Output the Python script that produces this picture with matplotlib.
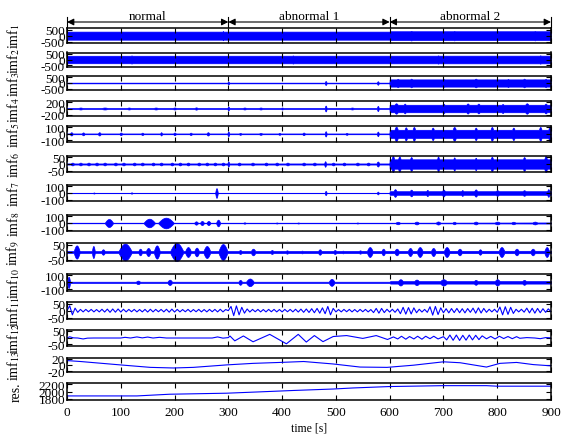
import numpy as np
import matplotlib
matplotlib.use('Agg')
import matplotlib.pyplot as plt
from matplotlib.transforms import blended_transform_factory

plt.rcParams['font.family'] = ['Liberation Serif', 'DejaVu Serif']
plt.rcParams['mathtext.fontset'] = 'stix'
plt.rcParams['axes.unicode_minus'] = False

# ---------------- data ----------------
segment_names = ['normal', 'abnormal 1', 'abnormal 2']
segment_bounds = [0, 300, 600, 900]
x_ticks = [0, 100, 200, 300, 400, 500, 600, 700, 800, 900]
x_label = 'time [s]'
row_labels = ['imf$_{1}$', 'imf$_{2}$', 'imf$_{3}$', 'imf$_{4}$', 'imf$_{5}$',
              'imf$_{6}$', 'imf$_{7}$', 'imf$_{8}$', 'imf$_{9}$', 'imf$_{10}$',
              'imf$_{11}$', 'imf$_{12}$', 'imf$_{13}$', 'res.']
row_tick = [500, 500, 500, 200, 100, 50, 100, 100, 50, 100, 50, 50, 20, 200]
res_center = 2000

# dense IMFs: envelope baseline knots + bursts (centre, half-width, amplitude)
imf1_base_t = [0, 300, 600, 601, 900]
imf1_base_a = [330, 330, 330, 360, 360]
imf1_bursts = [(290, 2, 380), (640, 6, 390), (720, 5, 385), (800, 6, 390), (870, 5, 385)]

imf2_base_t = [0, 900]
imf2_base_a = [320, 330]
imf2_bursts = [(120, 4, 350), (420, 4, 350), (690, 4, 355), (880, 4, 360)]

imf3_base_t = [0, 599.5, 600, 900]
imf3_base_a = [30, 30, 310, 310]
imf3_bursts = [(300, 2, 120), (481, 2, 170), (578, 2, 150),
               (615, 5, 360), (640, 5, 370), (700, 4, 350), (760, 6, 370),
               (820, 4, 350), (850, 5, 370), (890, 4, 360)]

imf4_base_t = [0, 599.5, 600, 900]
imf4_base_a = [15, 15, 115, 115]
imf4_bursts = [(25, 6, 30), (70, 8, 30), (115, 5, 30), (165, 6, 30), (200, 5, 30),
               (240, 4, 35), (300, 2, 60), (330, 5, 30), (360, 5, 30), (400, 3, 30),
               (481, 2, 90), (530, 5, 30), (578, 2, 80),
               (612, 6, 160), (628, 4, 150), (700, 5, 145), (745, 5, 155), (765, 5, 150),
               (810, 4, 140), (855, 6, 160), (890, 5, 150)]

imf5_base_t = [0, 599.5, 600, 900]
imf5_base_a = [6, 6, 62, 62]
imf5_bursts = [(8, 3, 25), (30, 3, 22), (60, 3, 25), (100, 3, 20), (140, 3, 18),
               (175, 2, 25), (200, 3, 20), (230, 3, 18), (262, 3, 25), (300, 2, 35),
               (322, 3, 15), (360, 4, 15), (395, 3, 15), (440, 3, 20), (481, 2, 40),
               (520, 3, 15), (578, 2, 35),
               (612, 5, 110), (630, 4, 100), (645, 4, 105), (680, 4, 95), (720, 5, 105),
               (760, 4, 95), (790, 4, 105), (830, 4, 95), (880, 4, 105), (897, 3, 110)]

imf6_base_t = [0, 599.5, 600, 900]
imf6_base_a = [4, 4, 34, 34]
imf6_bursts = [(10, 4, 10), (25, 4, 10), (40, 4, 10), (55, 4, 10), (70, 4, 10),
               (90, 4, 10), (105, 4, 10), (125, 4, 10), (140, 4, 10), (160, 4, 10),
               (175, 4, 10), (195, 4, 10), (210, 4, 10), (225, 4, 10), (245, 4, 10),
               (260, 4, 10), (275, 4, 10), (290, 4, 10), (300, 2, 18),
               (320, 4, 10), (345, 4, 10), (370, 4, 10), (390, 4, 10), (410, 4, 10),
               (440, 4, 10), (460, 4, 10), (480, 2, 20), (495, 4, 10), (515, 4, 10),
               (540, 4, 10), (560, 4, 10), (578, 3, 18),
               (606, 4, 58), (618, 4, 55), (640, 4, 50), (690, 3, 55), (720, 3, 48),
               (760, 3, 45), (790, 4, 52), (850, 4, 50), (890, 4, 58)]

imf7_base_t = [0, 599.5, 600, 900]
imf7_base_a = [3, 3, 26, 26]
imf7_bursts = [(50, 2, 8), (120, 2, 10), (278, 2.5, 70), (481, 2, 30), (578, 2, 20),
               (610, 4, 55), (640, 4, 48), (670, 3, 45), (700, 4, 50), (735, 3, 42),
               (760, 4, 52), (800, 5, 40), (850, 5, 40), (895, 3, 55)]

imf8_base_t = [0, 600, 900]
imf8_base_a = [4, 4, 8]
imf8_bursts = [(78, 8, 58), (153, 11, 62), (184, 15, 77), (240, 4, 24), (251, 4, 30),
               (263, 4, 30), (281, 4, 48), (330, 3, 10), (390, 3, 8), (430, 3, 8),
               (540, 3, 8), (615, 5, 18), (650, 5, 20), (690, 5, 22), (720, 4, 18),
               (760, 5, 20), (800, 6, 20), (830, 5, 18), (870, 6, 20)]

imf9_base_t = [0, 900]
imf9_base_a = [6, 8]
imf9_bursts = [(18, 6, 44), (49, 3, 40), (67, 4, 18), (108, 13, 56), (136, 4, 22),
               (151, 5, 27), (167, 6, 44), (204, 13, 60), (225, 6, 33), (241, 5, 29),
               (260, 7, 40), (290, 9, 53), (322, 4, 13), (346, 5, 22), (381, 4, 13),
               (409, 4, 11), (437, 4, 9), (470, 4, 18), (498, 4, 13), (513, 3, 9),
               (545, 4, 11), (563, 6, 33), (588, 4, 22), (613, 5, 22), (638, 5, 27),
               (656, 6, 33), (681, 5, 27), (706, 6, 33), (730, 5, 22), (768, 4, 18),
               (808, 6, 33), (836, 5, 22), (866, 5, 22), (892, 5, 33)]

imf10_base_t = [0, 600, 601, 900]
imf10_base_a = [9, 9, 18, 18]
imf10_bursts = [(3, 3, 80), (132, 5, 25), (191, 5, 38), (322, 4, 35), (340, 8, 55),
                (492, 6, 50), (620, 6, 45), (650, 6, 40), (700, 8, 45), (760, 5, 35),
                (800, 6, 45), (850, 5, 35)]

# line-type IMFs
imf11_t = list(range(0, 901, 5))
imf11_v = [0, 35, -30, 18, -12, 9,
           -9, 9, -8, 9, -9, 8, -9, 10, -10, 11,
           -12, 12, -11, 12, -10, 10,
           -9, 9, -8, 9,
           -9, 8, -9, 9, -10, 10,
           -9, 9, -8, 9,
           -9, 10, -11, 11, -10, 9,
           -9, 8, -8, 9,
           -9, 8, -8, 9, -9, 8,
           -9, 9, -8, 9,
           -9, 10, -9, 8,
           0, 30, -36, 34, -30, 24, -18, 12, -10,
           9, -8, 9, -9, 8, -9, 9, -8, 9, -9, 8, -9, 9, -8, 9, -9, 10, -10,
           11, -12, 12, -13, 14, -15, 16, -18, 20, -22,
           30, -30, 16,
           -9, 8, -9, 9, -8, 9, -9, 8, -9, 9, -8, 9, -9, 8,
           -14, 16, -18, 16, -14, 10,
           -10, 10, -12, 12,
           -22, 24, -25, 22, -24, 20, -15,
           10, -10, 9, -12,
           28, -32, 30, -28, 20,
           -15, 14, -16, 15, -14, 16, -15, 14, -16, 15, -12,
           18, -18, 20, -17, 16, -12,
           10, -9, 10, -12,
           26, -30, 28, -27, 24, -20,
           10, -9, 10, -11,
           18, -16, 17, -18, 16, -15, 14,
           -12, 13, -8]

imf12_t = [0, 5, 12, 20, 30, 38, 50, 100, 108, 118, 130, 140, 150, 160, 172, 185, 200,
           270, 280, 290, 300, 303, 312, 328, 346, 377, 408, 430, 445, 460, 476, 495,
           520, 550, 575, 596, 607, 615, 622, 630, 637, 645, 652, 660, 667, 675, 682,
           690, 700, 706, 712, 718, 724, 730, 736, 742, 748, 754, 760, 766, 772, 780,
           788, 796, 804, 812, 820, 828, 836, 842, 855, 870, 880, 890, 900]
imf12_v = [-3, 6, -2, -3, -10, -4, -3, -3, 2, -3, 5, -2, 4, -3, 2, -3, -3,
           -3, 5, -4, 0, 12, -24, 12, -31, 24, -46, 24, -33, 15, -30, 8,
           15, -6, 15, -14, 5, -10, 10, -12, 8, -10, 10, -12, 10, -8, 10,
           -10, 7, -17, 19, -20, 19, -21, 17, -19, 19, -17, 17, -15, 13, -9,
           9, -10, 10, -7, 8, -8, 7, -5, 0, -3, -8, 0, -2]

imf13_t = [0, 25, 99, 155, 198, 235, 297, 346, 396, 440, 495, 545, 595, 644, 700,
           731, 780, 805, 836, 867, 900]
imf13_v = [14, 11, 0, -8, -10, -8, 0, 5, 8, 11, 3, -7, -8, -1, 10, 7, -7, 5, 8, 1, -3]

res_t = [0, 130, 191, 297, 359, 421, 495, 532, 600, 700, 780, 800, 900]
res_v = [1875, 1875, 1923, 1952, 1990, 2029, 2070, 2100, 2140, 2165, 2165, 2150, 2150]

dense = [(imf1_base_t, imf1_base_a, imf1_bursts),
         (imf2_base_t, imf2_base_a, imf2_bursts),
         (imf3_base_t, imf3_base_a, imf3_bursts),
         (imf4_base_t, imf4_base_a, imf4_bursts),
         (imf5_base_t, imf5_base_a, imf5_bursts),
         (imf6_base_t, imf6_base_a, imf6_bursts),
         (imf7_base_t, imf7_base_a, imf7_bursts),
         (imf8_base_t, imf8_base_a, imf8_bursts),
         (imf9_base_t, imf9_base_a, imf9_bursts),
         (imf10_base_t, imf10_base_a, imf10_bursts)]
lines = [(imf11_t, imf11_v), (imf12_t, imf12_v), (imf13_t, imf13_v), (res_t, res_v)]

# ---------------- layout (pixel boxes top/bottom) ----------------
W, H = 570, 435
row_boxes = [(29.3, 44), (53.5, 67.5), (77, 91), (101.7, 117.3), (127, 142.7),
             (156.7, 173.3), (185.7, 202.3), (215.7, 232.3), (244, 262), (275, 291.7),
             (303.3, 320), (330.5, 346.7), (358.5, 373.3), (384, 401)]
x_left, x_right = 67, 551

fig = plt.figure(figsize=(W / 100, H / 100), dpi=100)
blue = (0, 0, 1)
grid_t = np.arange(0, 900.25, 0.25)
axes = []
for i, (top, bot) in enumerate(row_boxes):
    ax = fig.add_axes([x_left / W, 1 - bot / H, (x_right - x_left) / W, (bot - top) / H])
    axes.append(ax)
    T = row_tick[i]
    if i < 10:
        bt, ba, bursts = dense[i]
        env = np.interp(grid_t, bt, ba)
        for c, w, a in bursts:
            u = np.clip(np.abs((grid_t - c) / w), 0, 1)
            blob = a * np.cos(0.5 * np.pi * u)
            env = np.maximum(env, blob)
        ax.fill_between(grid_t, -env, env, color=blue, lw=0.5)
        ax.set_ylim(-1.2 * T, 1.2 * T)
        ticks = [-T, 0, T]
    else:
        t, v = lines[i - 10]
        ax.plot(t, v, color=blue, lw=0.8)
        if i == 13:
            ax.set_ylim(res_center - 1.2 * T, res_center + 1.2 * T)
            ticks = [res_center - T, res_center, res_center + T]
        else:
            ax.set_ylim(-1.2 * T, 1.2 * T)
            ticks = [-T, 0, T]
    ax.set_xlim(0, 900)
    ax.set_xticks(x_ticks)
    ax.set_yticks(ticks)
    ax.set_yticklabels([str(k) for k in ticks])
    ax.tick_params(direction='in', top=True, right=True, length=3.5, width=0.8,
                   labelsize=9.5, pad=1.5)
    ax.tick_params(axis='x', pad=4)
    for s in ax.spines.values():
        s.set_linewidth(1.1)
    if i < 13:
        ax.set_xticklabels([])
    else:
        ax.set_xticklabels([str(k) for k in x_ticks])
        ax.set_xlabel(x_label, fontsize=8.5, labelpad=3)
    ax.set_ylabel(row_labels[i], fontsize=10, labelpad=0)
    ax.yaxis.set_label_coords(-0.092, 0.5)

# segment arrows on top
ax0 = axes[0]
tr = blended_transform_factory(ax0.transData, fig.transFigure)
y_arrow = 1 - 23 / H
y_text = 1 - 19.5 / H
for k, name in enumerate(segment_names):
    a, b = segment_bounds[k], segment_bounds[k + 1]
    ax0.annotate('', xy=(b, y_arrow), xytext=(a, y_arrow), xycoords=tr, textcoords=tr,
                 arrowprops=dict(arrowstyle='<|-|>', color='k', lw=0.8,
                                 shrinkA=0, shrinkB=0, mutation_scale=10),
                 annotation_clip=False)
    ax0.text((a + b) / 2, y_text, name, transform=tr, ha='center', va='baseline',
             fontsize=9.5)
for xb in segment_bounds:
    ax0.plot([xb, xb], [1 - 18 / H, 1 - 28 / H], color='k', lw=0.8, transform=tr,
             clip_on=False)

fig.savefig('out.png', dpi=100)
